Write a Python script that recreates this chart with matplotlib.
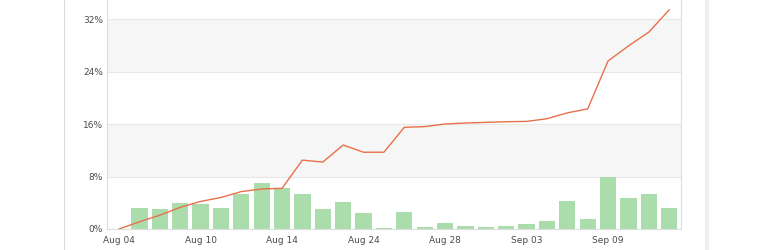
import matplotlib.pyplot as plt
from matplotlib.lines import Line2D

# daily values (%), one slot per day shown
cumulative = [0.0, 1.1, 2.1, 3.3, 4.2, 4.8, 5.7, 6.1, 6.2, 10.5, 10.2, 12.8, 11.7, 11.7,
              15.5, 15.6, 16.0, 16.15, 16.25, 16.35, 16.4, 16.8, 17.7, 18.3, 25.6, 27.9, 30.0, 33.4]
daily = [0.0, 3.2, 3.1, 3.9, 3.8, 3.2, 5.4, 7.0, 6.25, 5.4, 3.1, 4.1, 2.5, 0.15,
         2.6, 0.35, 0.85, 0.45, 0.35, 0.5, 0.7, 1.2, 4.25, 1.6, 8.0, 4.7, 5.4, 3.15]
tick_idx = [0, 4, 8, 12, 16, 20, 24]
tick_labels = ["Aug 04", "Aug 10", "Aug 14", "Aug 24", "Aug 28", "Sep 03", "Sep 09"]
y_ticks = [0, 8, 16, 24, 32]

W, H = 772, 250
fig = plt.figure(figsize=(W / 100, H / 100), dpi=100)
ax = fig.add_axes([107 / W, 21 / H, 574 / W, 229 / H])

x = list(range(len(daily)))
ax.axhspan(8, 16, color="#f6f6f6", zorder=0, lw=0)
ax.axhspan(24, 32, color="#f6f6f6", zorder=0, lw=0)
for yv in y_ticks[1:]:
    ax.axhline(yv, color="#e8e8e8", lw=0.8, zorder=0.5)

ax.bar(x, daily, width=0.8, color="#abdcab", zorder=2)
ax.plot(x, cumulative, color="#e8704a", lw=1.0, zorder=3)

ax.set_xlim(-0.59, 27.58)
ax.set_ylim(0, 34.9)
ax.set_xticks(tick_idx)
ax.set_xticklabels(tick_labels)
ax.set_yticks(y_ticks)
ax.set_yticklabels([f"{v}%" for v in y_ticks])
ax.tick_params(length=0, labelsize=6.5, colors="#4a4a4a", pad=3)
ax.tick_params(axis="x", pad=5)

for side in ["left", "bottom", "right"]:
    ax.spines[side].set_color("#dddddd")
    ax.spines[side].set_linewidth(0.8)
ax.spines["top"].set_visible(False)

# page borders around the chart
fig.add_artist(Line2D([64 / W, 64 / W], [0, 1], color="#dddddd", lw=0.8))
fig.add_artist(Line2D([707 / W, 707 / W], [0, 1], color="#eeeeee", lw=3))

fig.savefig("out.png", dpi=100)
